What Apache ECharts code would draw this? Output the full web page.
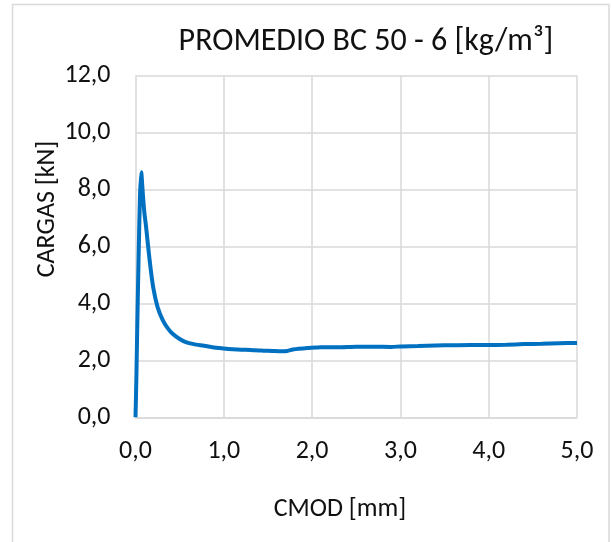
<!DOCTYPE html>
<html>
<head>
<meta charset="utf-8">
<script src="https://cdn.jsdelivr.net/npm/echarts@6/dist/echarts.min.js"></script>
<style>
  html, body { margin: 0; padding: 0; background: #fff; }
  #chart { width: 611px; height: 542px; }
</style>
</head>
<body>
<div id="chart"></div>
<script>
// CMOD [mm] y CARGAS [kN]
var cmod = [0, 0.01, 0.02, 0.035, 0.05, 0.065, 0.083, 0.1, 0.12, 0.16, 0.2, 0.25, 0.31, 0.36, 0.42, 0.5,
  0.57, 0.66, 0.76, 0.86, 0.95, 1.05, 1.15, 1.25, 1.35, 1.45, 1.55, 1.65, 1.72, 1.78, 1.85, 1.95,
  2.1, 2.3, 2.5, 2.7, 2.9, 3.0, 3.2, 3.4, 3.6, 3.8, 4.0, 4.2, 4.4, 4.6, 4.8, 5.0];
var cargas = [0, 1.4, 3.2, 5.6, 7.7, 8.6, 7.85, 7.2, 6.68, 5.51, 4.57, 3.87, 3.4, 3.15, 2.93, 2.75,
  2.64, 2.57, 2.52, 2.47, 2.43, 2.4, 2.38, 2.37, 2.35, 2.34, 2.33, 2.32, 2.33, 2.38, 2.41, 2.43,
  2.46, 2.46, 2.48, 2.48, 2.47, 2.49, 2.5, 2.52, 2.53, 2.54, 2.54, 2.55, 2.57, 2.58, 2.6, 2.61];
var xTicks = [0, 1, 2, 3, 4, 5];
var yTicks = [0, 2, 4, 6, 8, 10, 12];

var titulo = "PROMEDIO BC 50 - 6 [kg/m³]";
var nombreX = "CMOD [mm]";
var nombreY = "CARGAS [kN]";

var FONT = "Carlito, Calibri, Lato, sans-serif";
var TXT = "#111";

var puntos = cmod.map(function (x, i) { return [x, cargas[i]]; });

function coma(v) {
  return v.toFixed(1).replace(".", ",");
}

var chart = echarts.init(document.getElementById("chart"), null, { renderer: "canvas" });

var option = {
  backgroundColor: "#fff",
  animation: false,
  graphic: [
    {
      type: "rect",
      shape: { x: 12.5, y: 4.5, width: 596.5, height: 600 },
      style: { fill: "none", stroke: "#d9d9d9", lineWidth: 1.5 },
      silent: true,
      z: -1
    },
    {
      type: "text",
      x: 366, y: 42,
      style: { text: titulo, font: "32px " + FONT, fill: TXT, textAlign: "center", textVerticalAlign: "middle" }
    },
    {
      type: "text",
      x: 47, y: 209,
      rotation: Math.PI / 2,
      style: { text: nombreY, font: "26px " + FONT, fill: TXT, textAlign: "center", textVerticalAlign: "middle" }
    },
    {
      type: "text",
      x: 340, y: 509,
      style: { text: nombreX, font: "26px " + FONT, fill: TXT, textAlign: "center", textVerticalAlign: "middle" }
    }
  ],
  grid: {
    left: 135.5,
    right: 34,
    top: 75.5,
    bottom: 124.7,
    containLabel: false
  },
  xAxis: {
    type: "value",
    min: xTicks[0],
    max: xTicks[xTicks.length - 1],
    interval: 1,
    axisLine: { show: true, lineStyle: { color: "#d9d9d9", width: 1.5 } },
    axisTick: { show: false },
    splitLine: { show: true, lineStyle: { color: "#d9d9d9", width: 1.5 } },
    axisLabel: {
      margin: 21,
      color: TXT,
      fontFamily: FONT,
      fontSize: 26,
      formatter: function (v) { return coma(v); }
    }
  },
  yAxis: {
    type: "value",
    min: yTicks[0],
    max: yTicks[yTicks.length - 1],
    interval: 2,
    axisLine: { show: false },
    axisTick: { show: false },
    splitLine: { show: true, lineStyle: { color: "#d9d9d9", width: 1.5 } },
    axisLabel: {
      margin: 25,
      color: TXT,
      fontFamily: FONT,
      fontSize: 26,
      formatter: function (v) { return coma(v); }
    }
  },
  series: [
    {
      name: titulo,
      type: "line",
      data: puntos,
      showSymbol: false,
      symbol: "none",
      smooth: 0.2,
      lineStyle: { color: "#0070c0", width: 4 },
      z: 3
    }
  ]
};

chart.setOption(option);
</script>
</body>
</html>
